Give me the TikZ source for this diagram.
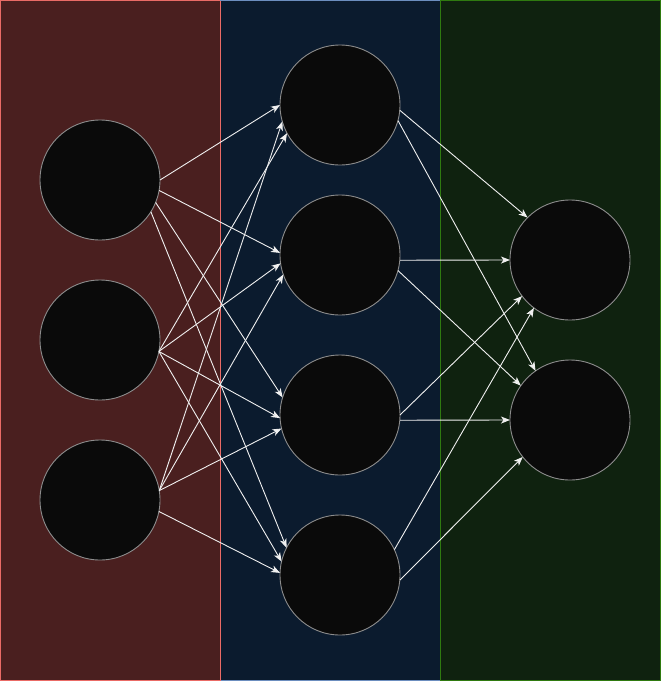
\documentclass[tikz,border=0pt]{standalone}
\usetikzlibrary{arrows.meta}
\definecolor{redfill}{HTML}{4A1F1F}
\definecolor{redline}{HTML}{EA6B66}
\definecolor{bluefill}{HTML}{0B1B2E}
\definecolor{blueline}{HTML}{6C8EBF}
\definecolor{greenfill}{HTML}{0F220F}
\definecolor{greenline}{HTML}{2F7A10}
\definecolor{neuronfill}{HTML}{0A0A0A}
\definecolor{neuronline}{HTML}{8C8C8C}
\definecolor{edgecol}{HTML}{F0F0F0}
\tikzset{
  neuron/.style={circle, draw=neuronline, fill=neuronfill, line width=0.9pt, minimum size=120pt, inner sep=0pt, outer sep=0pt},
  conn/.style={draw=edgecol, line width=0.9pt, -{Stealth[length=9pt,width=7pt,inset=2.5pt]}},
  layer/.style={line width=1pt}
}
\begin{document}
\begin{tikzpicture}[x=1pt,y=-1pt]
\useasboundingbox (0,0) rectangle (661,681);
% layers
\draw[layer, fill=redfill, draw=redline] (0.5,0.5) rectangle (220.5,680.5);
\draw[layer, fill=bluefill, draw=blueline] (220.5,0.5) rectangle (440.5,680.5);
\draw[layer, fill=greenfill, draw=greenline] (440.5,0.5) rectangle (660.5,680.5);
\draw[layer, draw=redline] (220.5,0.5) -- (220.5,680.5);
% neurons
\node[neuron] (i1) at (100,180) {};
\node[neuron] (i2) at (100,340) {};
\node[neuron] (i3) at (100,500) {};
\node[neuron] (h1) at (340,105) {};
\node[neuron] (h2) at (340,255) {};
\node[neuron] (h3) at (340,415) {};
\node[neuron] (h4) at (340,575) {};
\node[neuron] (o1) at (570,260) {};
\node[neuron] (o2) at (570,420) {};
% input -> hidden
\draw[conn] (i1.0) -- (h1.180);
\draw[conn] (i1.-10) -- (h2.178);
\draw[conn] (i1.-22) -- (h3.163);
\draw[conn] (i1.-32) -- (h4.153);
\draw[conn] (i2.-11) -- (h1.208);
\draw[conn] (i2.-11) -- (h2.188);
\draw[conn] (i2.-11) -- (h3.183);
\draw[conn] (i2.-11) -- (h4.167);
\draw[conn] (i3.9) -- (h1.196);
\draw[conn] (i3.9) -- (h2.199);
\draw[conn] (i3.9) -- (h3.193);
\draw[conn] (i3.-11) -- (h4.178);
% hidden -> output
\draw[conn] (h1.-5) -- (o1.135);
\draw[conn] (h1.-15) -- (o2.125);
\draw[conn] (h2.-5) -- (o1.180);
\draw[conn] (h2.-15) -- (o2.145);
\draw[conn] (h3.0) -- (o1.217);
\draw[conn] (h3.-5) -- (o2.180);
\draw[conn] (h4.25) -- (o1.233);
\draw[conn] (h4.-5) -- (o2.218);
\end{tikzpicture}
\end{document}
